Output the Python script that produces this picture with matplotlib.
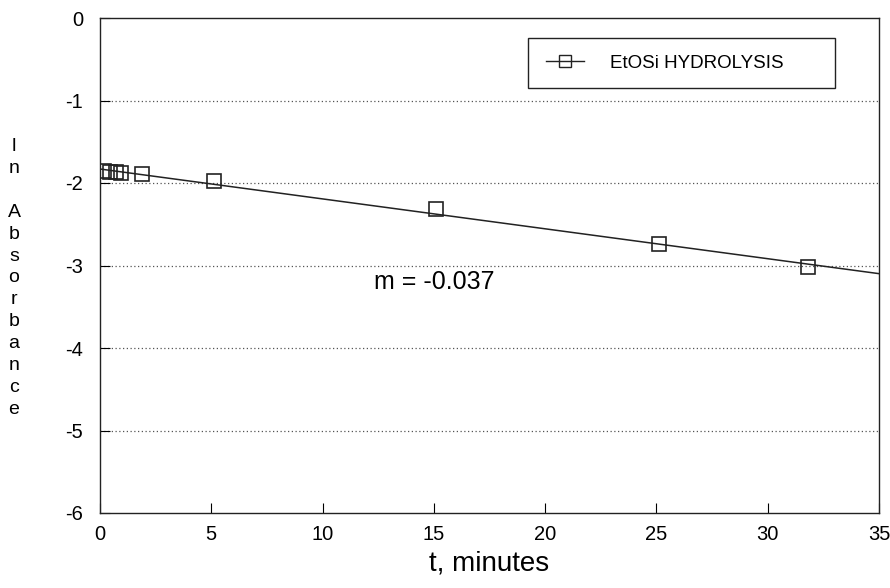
import numpy as np
import matplotlib.pyplot as plt
from matplotlib.patches import Rectangle

plt.rcParams['font.family'] = ['Liberation Sans', 'DejaVu Sans']
plt.rcParams['axes.unicode_minus'] = False

t_min = [0.2, 0.45, 0.7, 0.95, 1.9, 5.1, 15.1, 25.1, 31.8]
ln_abs = [-1.86, -1.87, -1.87, -1.88, -1.89, -1.98, -2.31, -2.74, -3.02]
slope_label = "m = -0.037"

m, b = np.polyfit(t_min, ln_abs, 1)
xs = np.array([0, 35])

fig = plt.figure(figsize=(8.9, 5.88), dpi=100)
L, R, T, B = 100, 879, 18, 513
ax = fig.add_axes([L/890, 1 - B/588, (R-L)/890, (B-T)/588])

ax.plot(xs, m*xs + b, color='#222222', lw=1.1, zorder=2)
ax.plot(t_min, ln_abs, ls='none', marker='s', ms=10.5, mfc='none', mec='#222222', mew=1.2, zorder=3)
# legend handle: line with open square
ax.plot([], [], color='#222222', lw=1.0, marker='s', ms=8.5, mfc='none', mec='#222222',
        label='EtOSi HYDROLYSIS')

ax.set_xlim(0, 35)
ax.set_ylim(-6, 0)
ax.set_xticks(range(0, 36, 5))
ax.set_yticks(range(-6, 1))
ax.tick_params(direction='in', length=7, labelsize=14.5)
ax.tick_params(axis='y', pad=12)
ax.tick_params(axis='x', pad=9)
for yv in range(-5, 0):
    ax.axhline(yv, color='#555555', ls=(0, (1, 2)), lw=0.9, zorder=1)
for s in ax.spines.values():
    s.set_linewidth(1.0)
    s.set_color('#222222')

ax.set_xlabel('t, minutes', fontsize=20, labelpad=4)
fig.text(14/890, 1 - 278/588, 'l\nn\n\nA\nb\ns\no\nr\nb\na\nn\nc\ne', ha='center', va='center',
         fontsize=14, linespacing=1.38)
ax.text(12.3, -3.2, slope_label, fontsize=18, va='center')

# legend box drawn by hand to match the wide frame
fig.patches.append(Rectangle((528/890, 1 - 88/588), (835-528)/890, 50/588, transform=fig.transFigure,
                             fill=True, facecolor='white', edgecolor='#222222', lw=1.0, zorder=4))
leg = fig.legend(loc='center left', bbox_to_anchor=(546/890, 1 - 63/588), fontsize=13.5,
                 frameon=False, borderpad=0, handlelength=2.0, handletextpad=1.4, borderaxespad=0)
leg.set_zorder(5)

fig.savefig('out.png', dpi=100)
